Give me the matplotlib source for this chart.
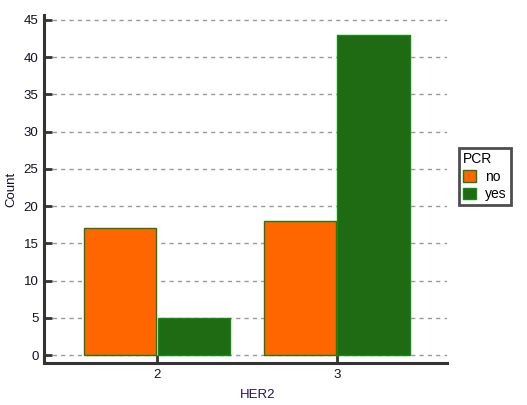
import numpy as np
import matplotlib
matplotlib.use('Agg')
import matplotlib.pyplot as plt

# Data
her2 = ['2', '3']
pcr_groups = ['no', 'yes']
count_no = [17, 18]
count_yes = [5, 43]
colors = ['#ff6600', '#1e6b14']
edges = ['#1f7a12', '#138a10']

plt.rcParams['font.family'] = ['Liberation Sans', 'DejaVu Sans']

fig = plt.figure(figsize=(5.27, 4.05), dpi=100)
ax = fig.add_axes([0.0835, 0.1037, 0.7645, 0.8593])

x = np.arange(len(her2))
w = 0.405
ax.bar(x - w / 2 - 0.003, count_no, width=w, color=colors[0], edgecolor=edges[0],
       linewidth=1, label=pcr_groups[0], zorder=3)
ax.bar(x + w / 2 + 0.003, count_yes, width=w, color=colors[1], edgecolor=edges[1],
       linewidth=1, label=pcr_groups[1], zorder=3)

ax.set_xlim(-0.628, 1.611)
ax.set_ylim(-1.07, 45.67)
ax.set_yticks(range(0, 50, 5))
ax.set_xticks(x)
ax.set_xticklabels(her2)

ax.yaxis.grid(True, linestyle=(0, (3, 3)), color='#999999', linewidth=1, zorder=0)
for s in ['top', 'right']:
    ax.spines[s].set_visible(False)
for s in ['left', 'bottom']:
    ax.spines[s].set_color('#333333')
    ax.spines[s].set_linewidth(2.2)
ax.tick_params(direction='in', length=6, width=2, color='#333333',
               labelsize=9.5, labelcolor='#111122', pad=4)

ax.set_xlabel('HER2', fontsize=9.5, color='#2a1450')
ax.set_ylabel('Count', fontsize=9.5, color='#111122')
ax.xaxis.set_label_coords(0.53, -0.075)
ax.yaxis.set_label_coords(-0.065, 0.5)

leg = ax.legend(title='PCR', loc='center left', bbox_to_anchor=(1.03, 0.535),
                frameon=True, fancybox=False, fontsize=10, title_fontsize=10,
                handlelength=0.9, handleheight=0.9, handletextpad=0.7,
                borderpad=0.3, labelspacing=0.25, borderaxespad=0)
leg.get_frame().set_edgecolor('#222222')
leg.get_frame().set_linewidth(2)
leg._legend_box.align = 'left'

plt.savefig('out.png', dpi=100)
